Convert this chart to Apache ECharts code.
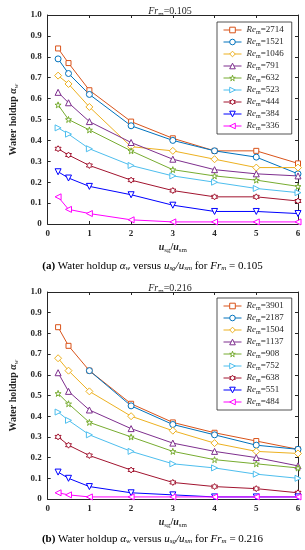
<!DOCTYPE html>
<html><head><meta charset="utf-8">
<script src="https://cdn.jsdelivr.net/npm/echarts@6/dist/echarts.min.js"></script>
<style>html,body{margin:0;padding:0;background:#fff}#c{width:305px;height:550px}</style>
</head><body><div id="c"></div>
<script>
// x positions (u_sg/u_sm)
const xValues = [0.25, 0.5, 1, 2, 3, 4, 5, 6];
const xTicks = [0, 1, 2, 3, 4, 5, 6];
const yTicks = [0, 0.1, 0.2, 0.3, 0.4, 0.5, 0.6, 0.7, 0.8, 0.9, 1.0];

// (a) Fr_m = 0.105
const namesA = ['2714', '1521', '1046', '791', '632', '523', '444', '384', '336'];
const a2714 = [0.84, 0.77, 0.64, 0.49, 0.41, 0.35, 0.35, 0.29];
const a1521 = [0.79, 0.72, 0.62, 0.47, 0.40, 0.35, 0.32, 0.24];
const a1046 = [0.71, 0.67, 0.56, 0.37, 0.35, 0.31, 0.27, 0.27];
const a791  = [0.63, 0.58, 0.49, 0.39, 0.31, 0.26, 0.24, 0.23];
const a632  = [0.57, 0.50, 0.45, 0.35, 0.26, 0.23, 0.21, 0.18];
const a523  = [0.46, 0.43, 0.36, 0.28, 0.23, 0.20, 0.17, 0.15];
const a444  = [0.36, 0.33, 0.28, 0.21, 0.16, 0.13, 0.13, 0.11];
const a384  = [0.25, 0.22, 0.18, 0.14, 0.09, 0.06, 0.06, 0.05];
const a336  = [0.13, 0.07, 0.05, 0.02, 0.01, 0.01, 0.01, 0.01];

// (b) Fr_m = 0.216
const namesB = ['3901', '2187', '1504', '1137', '908', '752', '638', '551', '484'];
const b3901 = [0.83, 0.74, 0.62, 0.46, 0.37, 0.32, 0.28, 0.24];
const b2187 = [null, null, 0.62, 0.45, 0.36, 0.31, 0.26, 0.24];
const b1504 = [0.68, 0.62, 0.52, 0.40, 0.33, 0.27, 0.23, 0.22];
const b1137 = [0.61, 0.52, 0.43, 0.34, 0.27, 0.23, 0.20, 0.16];
const b908  = [0.51, 0.46, 0.37, 0.30, 0.23, 0.19, 0.17, 0.15];
const b752  = [0.42, 0.38, 0.31, 0.23, 0.17, 0.15, 0.12, 0.10];
const b638  = [0.30, 0.26, 0.21, 0.14, 0.08, 0.06, 0.05, 0.03];
const b551  = [0.13, 0.10, 0.06, 0.03, 0.02, 0.01, 0.01, 0.01];
const b484  = [0.03, 0.02, 0.01, 0.01, 0.01, 0.01, 0.01, 0.01];

const valuesA = [a2714, a1521, a1046, a791, a632, a523, a444, a384, a336];
const valuesB = [b3901, b2187, b1504, b1137, b908, b752, b638, b551, b484];

const colors = ['#D95319', '#0072BD', '#EDB120', '#7E2F8E', '#77AC30', '#4DBEEE', '#A2142F', '#0000FF', '#FF00FF'];
const star = 'path://M50,0 L61,35 L98,35 L68,57 L79,91 L50,70 L21,91 L32,57 L2,35 L39,35 Z';
const hexa = 'path://M50,0 L64,25 L93,25 L78,50 L93,75 L64,75 L50,100 L36,75 L7,75 L22,50 L7,25 L36,25 Z';
const symbols = [
  {s: 'rect', r: 0, z: 5}, {s: 'circle', r: 0, z: 6}, {s: 'diamond', r: 0, z: 7},
  {s: 'triangle', r: 0, z: 6}, {s: star, r: 0, z: 6}, {s: 'triangle', r: -90, z: 6},
  {s: hexa, r: 0, z: 6}, {s: 'triangle', r: 180, z: 6}, {s: 'triangle', r: 90, z: 6}
];

const ink = '#262626';
const serif = 'Liberation Serif';

function makeSeries(names, values, gi) {
  return names.map((n, i) => ({
    name: n, type: 'line', xAxisIndex: gi * 2, yAxisIndex: gi * 2,
    data: xValues.map((x, k) => [x, values[i][k]]),
    connectNulls: false, color: colors[i],
    symbol: symbols[i].s, symbolRotate: symbols[i].r, symbolSize: symbols[i].z,
    lineStyle: {color: colors[i], width: 1},
    itemStyle: {color: '#fff', borderColor: colors[i], borderWidth: 1},
    emphasis: {disabled: true}, animation: false
  }));
}

function xAxes(gi) {
  const base = {type: 'value', gridIndex: gi, min: 0, max: 6, interval: 1,
    axisLine: {onZero: false, lineStyle: {color: ink, width: 1}},
    axisTick: {inside: true, length: 3, lineStyle: {color: ink}},
    splitLine: {show: false}};
  return [
    Object.assign({}, base, {position: 'bottom',
      axisLabel: {color: ink, fontFamily: serif, fontWeight: 'bold', fontSize: 9, margin: 5,
        formatter: v => xTicks.includes(v) ? String(v) : ''},
      name: '{u|u}{s|sg}{n|/}{u|u}{s|sm}', nameLocation: 'middle', nameGap: 17,
      nameTextStyle: {rich: {
        u: {fontFamily: serif, fontStyle: 'italic', fontWeight: 'bold', fontSize: 10, color: ink},
        s: {fontFamily: serif, fontSize: 7, color: ink, padding: [6, 0, 0, 0]},
        n: {fontFamily: serif, fontWeight: 'bold', fontSize: 10, color: ink}}}}),
    Object.assign({}, base, {position: 'top', axisLabel: {show: false}})
  ];
}
function yAxes(gi) {
  const base = {type: 'value', gridIndex: gi, min: 0, max: 1, interval: 0.1,
    axisLine: {onZero: false, lineStyle: {color: ink, width: 1}},
    axisTick: {inside: true, length: 3, lineStyle: {color: ink}},
    splitLine: {show: false}};
  return [
    Object.assign({}, base, {position: 'left',
      axisLabel: {color: ink, fontFamily: serif, fontWeight: 'bold', fontSize: 9, margin: 6,
        formatter: v => v === 0 ? '0' : v.toFixed(1)},
      name: '{b|Water holdup }{a|α}{s|w}', nameLocation: 'middle', nameGap: 24, nameRotate: 90,
      nameTextStyle: {rich: {
        b: {fontFamily: serif, fontWeight: 'bold', fontSize: 10, color: ink},
        a: {fontFamily: serif, fontStyle: 'italic', fontWeight: 'bold', fontSize: 10, color: ink},
        s: {fontFamily: serif, fontStyle: 'italic', fontSize: 7, color: ink, padding: [6, 0, 0, 0]}}}}),
    Object.assign({}, base, {position: 'right', axisLabel: {show: false}})
  ];
}

function legend(names, top) {
  return {
    data: names, orient: 'vertical', left: 217, top: top,
    backgroundColor: '#fff', borderColor: ink, borderWidth: 0.8,
    padding: [3, 8, 3, 6], itemWidth: 18, itemHeight: 7, itemGap: 2,
    selectedMode: false,
    itemStyle: {color: '#fff', borderWidth: 1},
    lineStyle: {width: 1},
    formatter: n => '{i|Re}{s|m}{n|=' + n + '}',
    textStyle: {rich: {
      i: {fontFamily: serif, fontStyle: 'italic', fontSize: 9, color: ink, lineHeight: 10},
      s: {fontFamily: serif, fontSize: 6, color: ink, lineHeight: 10, padding: [4, 0, 0, 0]},
      n: {fontFamily: serif, fontSize: 9, color: ink, lineHeight: 10}}}
  };
}

const titleRich = {
  f: {fontFamily: serif, fontStyle: 'italic', fontWeight: 'normal', fontSize: 10, color: ink},
  s: {fontFamily: serif, fontWeight: 'normal', fontSize: 7, color: ink, padding: [6, 0, 0, 0]},
  n: {fontFamily: serif, fontWeight: 'normal', fontSize: 10, color: ink}
};
const capRich = {
  b: {fontFamily: serif, fontWeight: 'bold', fontSize: 11, color: '#222'},
  t: {fontFamily: serif, fontSize: 11, color: '#222'},
  i: {fontFamily: serif, fontStyle: 'italic', fontSize: 11, color: '#222'},
  s: {fontFamily: serif, fontStyle: 'italic', fontSize: 7, color: '#222', padding: [4, 0, 0, 0]}
};

const chart = echarts.init(document.getElementById('c'), null, {renderer: 'canvas'});
chart.setOption({
  animation: false,
  backgroundColor: '#fff',
  title: [
    {text: '{f|Fr}{s|m}{n|=0.105}', left: 165, top: 0, textAlign: 'center', textStyle: {fontWeight: 'normal', rich: titleRich}},
    {text: '{f|Fr}{s|m}{n|=0.216}', left: 165, top: 277, textAlign: 'center', textStyle: {fontWeight: 'normal', rich: titleRich}}
  ],
  grid: [
    {left: 33, top: 15, width: 265, height: 209},
    {left: 32, top: 292, width: 266, height: 207}
  ],
  xAxis: [...xAxes(0), ...xAxes(1)],
  yAxis: [...yAxes(0), ...yAxes(1)],
  legend: [legend(namesA, 22), legend(namesB, 298)],
  series: [...makeSeries(namesA, valuesA, 0), ...makeSeries(namesB, valuesB, 1)],
  graphic: [
    {type: 'text', left: 'center', top: 261, style: {
      text: '{b|(a)}{t| Water holdup }{i|α}{s|w}{t| versus }{i|u}{s|sg}{i|/u}{s|sm}{t| for }{i|Fr}{s|m}{t| = 0.105}', rich: capRich}},
    {type: 'text', left: 'center', top: 534, style: {
      text: '{b|(b)}{t| Water holdup }{i|α}{s|w}{t| versus }{i|u}{s|sg}{i|/u}{s|sm}{t| for }{i|Fr}{s|m}{t| = 0.216}', rich: capRich}}
  ]
});
</script></body></html>
